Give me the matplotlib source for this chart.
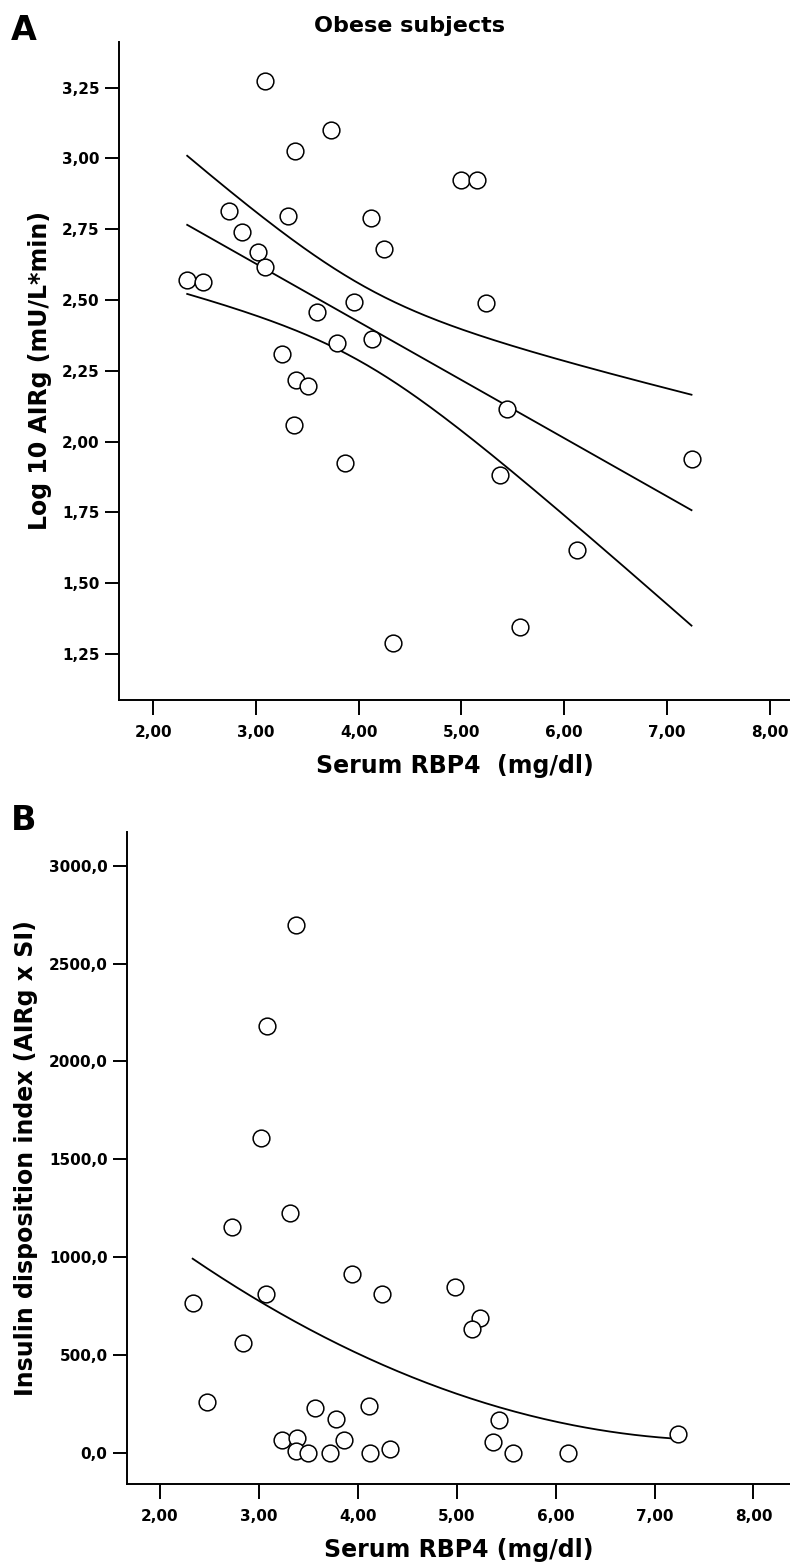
import numpy as np
import matplotlib
matplotlib.use("Agg")
import matplotlib.pyplot as plt
from matplotlib.ticker import FuncFormatter

# --- data ---
# Panel A: serum RBP4 vs log10 AIRg
rbp4_a = [3.09, 3.73, 3.38, 5.00, 5.15, 2.74, 3.31, 4.12, 2.86, 3.02,
          4.25, 3.09, 2.33, 2.48, 5.24, 3.95, 3.59, 3.79, 4.13, 3.25,
          3.39, 3.51, 5.44, 3.37, 3.87, 5.38, 7.24, 6.13, 5.57, 4.33]
log_airg = [3.275, 3.10, 3.026, 2.924, 2.924, 2.816, 2.795, 2.791, 2.739, 2.669,
            2.681, 2.616, 2.571, 2.562, 2.491, 2.492, 2.459, 2.348, 2.362, 2.31,
            2.216, 2.195, 2.116, 2.058, 1.924, 1.884, 1.94, 1.616, 1.346, 1.29]

# Panel B: serum RBP4 vs insulin disposition index
rbp4_b = [3.375, 3.08, 3.02, 3.31, 2.73, 3.94, 4.985, 3.07, 4.24, 2.33,
          5.24, 5.15, 2.84, 2.47, 3.57, 4.11, 3.78, 5.43, 7.24, 3.23,
          3.38, 3.86, 5.37, 3.37, 3.50, 3.72, 4.12, 4.33, 5.57, 6.13]
disp_index = [2698, 2180, 1609, 1228, 1156, 915, 850, 810, 810, 767,
              690, 633, 561, 260, 230, 240, 175, 170, 95, 65,
              78, 66, 56, 8, 0, 0, 0, 19, 0, 0]

x_ticks = [2, 3, 4, 5, 6, 7, 8]
a_yticks = [1.25, 1.50, 1.75, 2.00, 2.25, 2.50, 2.75, 3.00, 3.25]
b_yticks = [0, 500, 1000, 1500, 2000, 2500, 3000]

T_90 = 1.701  # t value for the band, df = 28

plt.rcParams['font.family'] = ['DejaVu Sans']
plt.rcParams['font.weight'] = 'bold'

W, H = 790, 1565
fig = plt.figure(figsize=(W / 100, H / 100), dpi=100)


def px_axes(left, top, right, bottom):
    return fig.add_axes([left / W, 1 - bottom / H, (right - left) / W, (bottom - top) / H])


def style_axes(ax, xfmt, yfmt):
    for s in ['top', 'right']:
        ax.spines[s].set_visible(False)
    for s in ['left', 'bottom']:
        ax.spines[s].set_linewidth(1.4)
    ax.tick_params(axis='x', direction='out', length=11, width=1.4, pad=7, labelsize=11)
    ax.tick_params(axis='y', direction='out', length=10, width=1.4, pad=4, labelsize=11)
    ax.xaxis.set_major_formatter(FuncFormatter(xfmt))
    ax.yaxis.set_major_formatter(FuncFormatter(yfmt))
    for lab in ax.get_xticklabels() + ax.get_yticklabels():
        lab.set_fontweight('bold')


comma2 = lambda v, p: f"{v:.2f}".replace('.', ',')
comma1 = lambda v, p: f"{v:.1f}".replace('.', ',')

# ---------- Panel A ----------
ax1 = px_axes(119, 42, 790, 700)
xa = np.array(rbp4_a)
ya = np.array(log_airg)
ax1.scatter(xa, ya, s=145, facecolors='white', edgecolors='black', linewidths=1.1, zorder=3)

# linear fit with confidence band of the mean
b1, b0 = np.polyfit(xa, ya, 1)
n = len(xa)
resid = ya - (b0 + b1 * xa)
s_err = np.sqrt(np.sum(resid ** 2) / (n - 2))
sxx = np.sum((xa - xa.mean()) ** 2)
xx = np.linspace(xa.min(), xa.max(), 200)
yy = b0 + b1 * xx
hw = T_90 * s_err * np.sqrt(1 / n + (xx - xa.mean()) ** 2 / sxx)
ax1.plot(xx, yy, color='black', lw=1.3, zorder=2)
ax1.plot(xx, yy + hw, color='black', lw=1.3, zorder=2)
ax1.plot(xx, yy - hw, color='black', lw=1.3, zorder=2)

ax1.set_xlim(1.666, 8.199)
ax1.set_ylim(1.088, 3.411)
ax1.set_xticks(x_ticks)
ax1.set_yticks(a_yticks)
style_axes(ax1, comma2, comma2)
ax1.set_xlabel('Serum RBP4  (mg/dl)', fontsize=17, fontweight='bold', labelpad=10)
ax1.set_ylabel('Log 10 AIRg (mU/L*min)', fontsize=17, fontweight='bold', labelpad=7)

# ---------- Panel B ----------
ax2 = px_axes(127, 832, 790, 1484)
xb = np.array(rbp4_b)
yb = np.array(disp_index)
ax2.scatter(xb, yb, s=145, facecolors='white', edgecolors='black', linewidths=1.1, zorder=3)

c2, c1, c0 = np.polyfit(xb, yb, 2)
xq = np.linspace(xb.min(), xb.max(), 200)
ax2.plot(xq, c0 + c1 * xq + c2 * xq ** 2, color='black', lw=1.3, zorder=2)

ax2.set_xlim(1.666, 8.370)
ax2.set_ylim(-158, 3172)
ax2.set_xticks(x_ticks)
ax2.set_yticks(b_yticks)
style_axes(ax2, comma2, comma1)
ax2.set_xlabel('Serum RBP4 (mg/dl)', fontsize=17, fontweight='bold', labelpad=10)
ax2.set_ylabel('Insulin disposition index (AIRg x SI)', fontsize=17, fontweight='bold', labelpad=8)

# panel letters and title
fig.text(24 / W, 1 - 30 / H, 'A', fontsize=24, fontweight='bold', ha='center', va='center')
fig.text(24 / W, 1 - 820 / H, 'B', fontsize=24, fontweight='bold', ha='center', va='center')
fig.text(409 / W, 1 - 26 / H, 'Obese subjects', fontsize=16, fontweight='bold', ha='center', va='center')

fig.savefig('out.png', dpi=100)
